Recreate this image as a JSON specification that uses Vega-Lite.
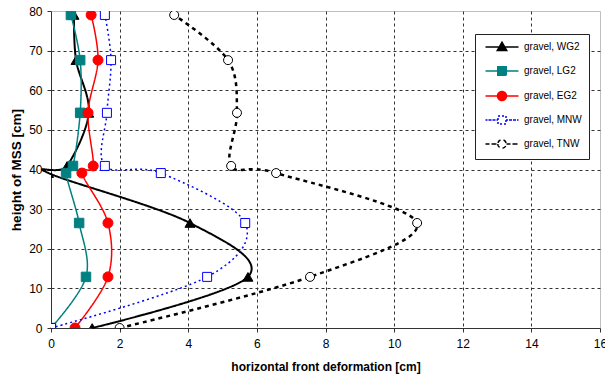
{
  "$schema": "https://vega.github.io/schema/vega-lite/v6.json",
  "width": 549,
  "height": 317,
  "autosize": {"type": "none"},
  "padding": {"left": 51, "top": 11, "right": 5, "bottom": 55},
  "background": "white",
  "config": {
    "view": {"stroke": "#bfbfbf", "strokeWidth": 1},
    "axis": {"labelFont": "Liberation Sans", "titleFont": "Liberation Sans", "labelColor": "#000", "titleColor": "#000"}
  },
  "data": {"values": [
    {"series": "gravel, WG2", "x": 1.2, "y": 0},
    {"series": "gravel, WG2", "x": 5.74, "y": 12.9},
    {"series": "gravel, WG2", "x": 4.05, "y": 26.5},
    {"series": "gravel, WG2", "x": -0.07, "y": 39.1},
    {"series": "gravel, WG2", "x": 0.47, "y": 40.9},
    {"series": "gravel, WG2", "x": 1.1, "y": 54.3},
    {"series": "gravel, WG2", "x": 0.73, "y": 67.6},
    {"series": "gravel, WG2", "x": 0.67, "y": 79},
    {"series": "gravel, LG2", "x": 0, "y": 0},
    {"series": "gravel, LG2", "x": 1.02, "y": 12.9},
    {"series": "gravel, LG2", "x": 0.82, "y": 26.5},
    {"series": "gravel, LG2", "x": 0.44, "y": 39.1},
    {"series": "gravel, LG2", "x": 0.64, "y": 40.9},
    {"series": "gravel, LG2", "x": 0.85, "y": 54.3},
    {"series": "gravel, LG2", "x": 0.85, "y": 67.6},
    {"series": "gravel, LG2", "x": 0.58, "y": 79},
    {"series": "gravel, EG2", "x": 0.7, "y": 0},
    {"series": "gravel, EG2", "x": 1.66, "y": 12.9},
    {"series": "gravel, EG2", "x": 1.66, "y": 26.5},
    {"series": "gravel, EG2", "x": 0.9, "y": 39.1},
    {"series": "gravel, EG2", "x": 1.23, "y": 40.9},
    {"series": "gravel, EG2", "x": 1.08, "y": 54.3},
    {"series": "gravel, EG2", "x": 1.37, "y": 67.6},
    {"series": "gravel, EG2", "x": 1.17, "y": 79},
    {"series": "gravel, MNW", "x": 0, "y": 0},
    {"series": "gravel, MNW", "x": 4.55, "y": 12.9},
    {"series": "gravel, MNW", "x": 5.66, "y": 26.5},
    {"series": "gravel, MNW", "x": 3.2, "y": 39.1},
    {"series": "gravel, MNW", "x": 1.57, "y": 40.9},
    {"series": "gravel, MNW", "x": 1.63, "y": 54.3},
    {"series": "gravel, MNW", "x": 1.75, "y": 67.6},
    {"series": "gravel, MNW", "x": 1.57, "y": 79},
    {"series": "gravel, TNW", "x": 2.0, "y": 0},
    {"series": "gravel, TNW", "x": 7.55, "y": 12.9},
    {"series": "gravel, TNW", "x": 10.67, "y": 26.5},
    {"series": "gravel, TNW", "x": 6.56, "y": 39.1},
    {"series": "gravel, TNW", "x": 5.25, "y": 40.9},
    {"series": "gravel, TNW", "x": 5.42, "y": 54.3},
    {"series": "gravel, TNW", "x": 5.16, "y": 67.6},
    {"series": "gravel, TNW", "x": 3.59, "y": 79}
  ]},
  "resolve": {"axis": {"x": "independent", "y": "independent"}},
  "layer": [
    {
      "mark": {"type": "line", "interpolate": "cardinal", "clip": false},
      "encoding": {
        "x": {"field": "x", "type": "quantitative", "scale": {"domain": [0, 16], "nice": false, "zero": false},
          "axis": {"orient": "bottom", "title": "horizontal front deformation [cm]", "values": [0, 2, 4, 6, 8, 10, 12, 14, 16], "grid": false,
            "domainColor": "#333", "tickColor": "#333", "tickSize": 4, "labelFontSize": 12, "labelPadding": 6, "titleFontSize": 12, "titleFontWeight": "bold", "titlePadding": 12, "labelFlush": false}},
        "y": {"field": "y", "type": "quantitative", "scale": {"domain": [0, 80], "nice": false, "zero": false},
          "axis": {"orient": "left", "title": "height of MSS [cm]", "values": [0, 10, 20, 30, 40, 50, 60, 70, 80], "grid": false,
            "domainColor": "#333", "tickColor": "#333", "tickSize": 4, "labelFontSize": 12, "labelPadding": 5, "titleFontSize": 13.5, "titleFontWeight": "bold", "titlePadding": 5, "labelFlush": false}},
        "order": {"field": "y", "type": "quantitative"},
        "stroke": {"field": "series", "type": "nominal",
          "scale": {"domain": ["gravel, WG2", "gravel, LG2", "gravel, EG2", "gravel, MNW", "gravel, TNW"], "range": ["#000000", "#008080", "#FF0000", "#0000FF", "#000000"]},
          "legend": {
            "title": null, "orient": "none", "legendX": 424, "legendY": 23, "padding": 7,
            "strokeColor": "#222", "fillColor": "#fff",
            "symbolSize": 100, "symbolOffset": 14, "labelOffset": 16, "rowPadding": 9,
            "labelFont": "Liberation Sans", "labelFontSize": 10, "labelColor": "#000", "symbolStrokeWidth": 1.5,
            "encode": {"symbols": {"update": {
              "shape": {"signal": "datum.value === 'gravel, WG2' ? 'M-3.3,0H3.3V0Z M0,-0.95L0.95,0.7H-0.95Z' : datum.value === 'gravel, LG2' ? 'M-3.3,0H3.3V0Z M-0.85,-0.85H0.85V0.85H-0.85Z' : datum.value === 'gravel, EG2' ? 'M-3.3,0H3.3V0Z M-0.9,0A0.9,0.9,0,1,0,0.9,0A0.9,0.9,0,1,0,-0.9,0Z' : datum.value === 'gravel, MNW' ? 'M-3.3,0H-0.8V0Z M0.8,0H3.3V0Z M-0.8,-0.8H0.8V0.8H-0.8Z' : 'M-3.3,0H-0.9V0Z M0.9,0H3.3V0Z M-0.85,0A0.85,0.85,0,1,0,0.85,0A0.85,0.85,0,1,0,-0.85,0Z'"},
              "fill": {"signal": "datum.value === 'gravel, WG2' ? '#000000' : datum.value === 'gravel, LG2' ? '#008080' : datum.value === 'gravel, EG2' ? '#FF0000' : '#ffffff'"},
              "strokeDash": {"signal": "datum.value === 'gravel, MNW' ? [2, 2] : datum.value === 'gravel, TNW' ? [4, 3] : [1, 0]"},
              "opacity": {"value": 1}
            }}}
          }},
        "strokeDash": {"field": "series", "type": "nominal", "legend": null,
          "scale": {"range": [[1, 0], [1, 0], [2, 3], [4, 4], [1, 0]]}},
        "strokeWidth": {"field": "series", "type": "nominal", "legend": null,
          "scale": {"type": "ordinal", "range": [1.5, 1.5, 1.5, 2.5, 2]}}
      }
    },
    {
      "mark": {"type": "point", "clip": true, "opacity": 1, "strokeWidth": 1},
      "encoding": {
        "x": {"field": "x", "type": "quantitative",
          "axis": {"orient": "bottom", "title": null, "values": [2, 4, 6, 8, 10, 12, 14], "grid": true, "gridColor": "#333", "gridDash": [3, 3], "gridWidth": 1, "labels": false, "ticks": false, "domain": false}},
        "y": {"field": "y", "type": "quantitative",
          "axis": {"orient": "left", "title": null, "values": [10, 20, 30, 40, 50, 60, 70], "grid": true, "gridColor": "#333", "gridDash": [3, 3], "gridWidth": 1, "labels": false, "ticks": false, "domain": false}},
        "stroke": {"field": "series", "type": "nominal", "legend": null},
        "fill": {"field": "series", "type": "nominal", "legend": null,
          "scale": {"range": ["#FF0000", "#008080", "#ffffff", "#ffffff", "#000000"]}},
        "shape": {"field": "series", "type": "nominal", "legend": null,
          "scale": {"range": ["circle", "square", "square", "circle", "triangle-up"]}},
        "size": {"field": "series", "type": "nominal", "legend": null,
          "scale": {"type": "ordinal", "range": [100, 90, 81, 81, 100]}}
      }
    }
  ]
}
